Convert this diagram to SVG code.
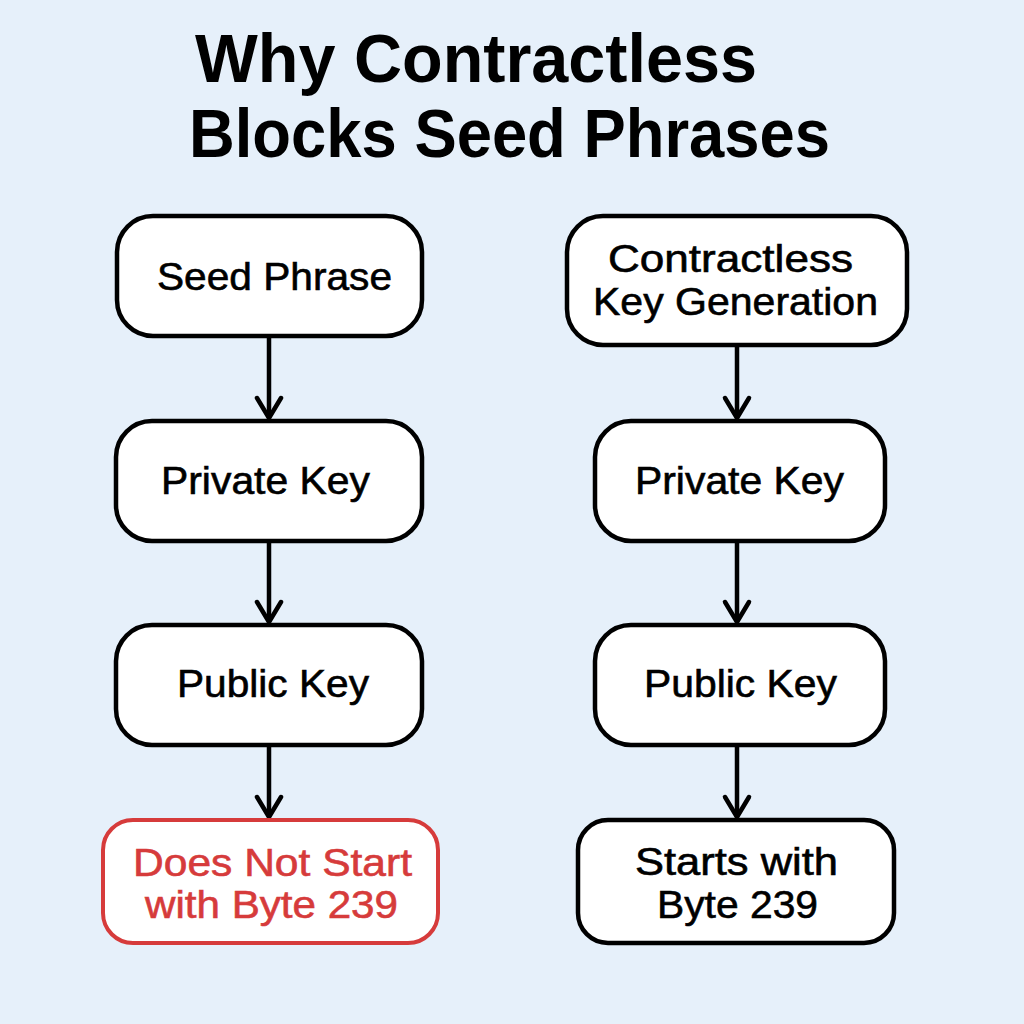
<svg xmlns="http://www.w3.org/2000/svg" width="1024" height="1024" viewBox="0 0 1024 1024">
<defs>
<style>
.bg{fill:#E6F0FA}
.box{fill:#FFFFFF;stroke:#000000;stroke-width:4.5}
.bad{fill:#FFFFFF;stroke:#D63B3B;stroke-width:4}
.t{font-family:"Liberation Sans",Arial,sans-serif;font-size:38px;fill:#000000;stroke:#000000;stroke-width:0.6}
.tr{font-family:"Liberation Sans",Arial,sans-serif;font-size:38px;fill:#D63B3B;stroke:#D63B3B;stroke-width:0.6}
.title{font-family:"Liberation Sans",Arial,sans-serif;font-size:68px;font-weight:bold;fill:#000000}
.conn{stroke:#000000;stroke-width:4.5;fill:none}
.head{stroke:#000000;stroke-width:4.5;fill:none;stroke-linecap:round;stroke-linejoin:round}
</style>
</defs>
<rect class="bg" x="0" y="0" width="1024" height="1024"/>
<g id="title">
<text class="title" x="195" y="82" textLength="562" lengthAdjust="spacingAndGlyphs">Why Contractless</text>
<text class="title" x="189" y="157" textLength="641" lengthAdjust="spacingAndGlyphs">Blocks Seed Phrases</text>
</g>
<g id="connectors">
<line class="conn" x1="269" y1="337" x2="269" y2="418"/>
<polyline class="head" points="257,398 269,418 281,398"/>
<line class="conn" x1="269" y1="541" x2="269" y2="622"/>
<polyline class="head" points="257,602 269,622 281,602"/>
<line class="conn" x1="269" y1="745" x2="269" y2="817"/>
<polyline class="head" points="257,797 269,817 281,797"/>
<line class="conn" x1="737" y1="345" x2="737" y2="418"/>
<polyline class="head" points="725,398 737,418 749,398"/>
<line class="conn" x1="737" y1="541" x2="737" y2="622"/>
<polyline class="head" points="725,602 737,622 749,602"/>
<line class="conn" x1="737" y1="745" x2="737" y2="817"/>
<polyline class="head" points="725,797 737,817 749,797"/>
</g>
<g id="seed-phrase">
<rect class="box" x="117" y="216" width="305" height="120" rx="36"/>
<text class="t" x="157" y="290" textLength="235" lengthAdjust="spacingAndGlyphs">Seed Phrase</text>
</g>
<g id="private-key-left">
<rect class="box" x="116" y="421" width="306" height="120" rx="36"/>
<text class="t" x="161" y="494" textLength="209" lengthAdjust="spacingAndGlyphs">Private Key</text>
</g>
<g id="public-key-left">
<rect class="box" x="116" y="625" width="306" height="120" rx="36"/>
<text class="t" x="177" y="697" textLength="192" lengthAdjust="spacingAndGlyphs">Public Key</text>
</g>
<g id="does-not-start">
<rect class="bad" x="103" y="820" width="335" height="123" rx="30"/>
<text class="tr" x="133" y="876" textLength="279" lengthAdjust="spacingAndGlyphs">Does Not Start</text>
<text class="tr" x="145" y="918" textLength="253" lengthAdjust="spacingAndGlyphs">with Byte 239</text>
</g>
<g id="contractless-keygen">
<rect class="box" x="567" y="216" width="340" height="129" rx="36"/>
<text class="t" x="608" y="272" textLength="245" lengthAdjust="spacingAndGlyphs">Contractless</text>
<text class="t" x="593" y="315" textLength="285" lengthAdjust="spacingAndGlyphs">Key Generation</text>
</g>
<g id="private-key-right">
<rect class="box" x="595" y="421" width="290" height="120" rx="36"/>
<text class="t" x="635" y="494" textLength="209" lengthAdjust="spacingAndGlyphs">Private Key</text>
</g>
<g id="public-key-right">
<rect class="box" x="595" y="625" width="290" height="120" rx="36"/>
<text class="t" x="644" y="697" textLength="193" lengthAdjust="spacingAndGlyphs">Public Key</text>
</g>
<g id="starts-with">
<rect class="box" x="578" y="820" width="316" height="123" rx="30"/>
<text class="t" x="635" y="875" textLength="203" lengthAdjust="spacingAndGlyphs">Starts with</text>
<text class="t" x="657" y="918" textLength="161" lengthAdjust="spacingAndGlyphs">Byte 239</text>
</g>
</svg>
